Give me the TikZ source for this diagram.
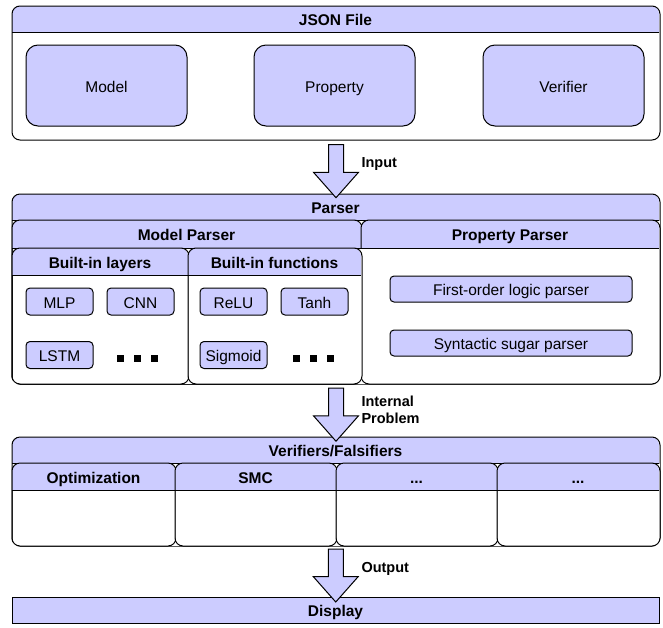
\documentclass[tikz,border=0pt]{standalone}
\usepackage{fontspec}
\setmainfont{Liberation Sans}
\usetikzlibrary{shapes.arrows,calc}
\definecolor{lav}{HTML}{CCCCFF}
\tikzset{
  lanebox/.style={fill=white, inner sep=0pt, anchor=north west},
  hdr/.style={font=\bfseries\fontsize{15.5}{18}\selectfont, text height=13pt, text depth=0pt},
  item/.style={draw, fill=lav, rounded corners=4pt, minimum width=67pt, minimum height=27pt, inner sep=0pt, font=\fontsize{15.5}{18}\selectfont, text height=13pt, text depth=0pt},
  bigitem/.style={item, rounded corners=12pt, minimum width=161pt, minimum height=81pt},
  wideitem/.style={item, minimum width=242pt, minimum height=26pt},
  fatarrow/.style={single arrow, draw, fill=lav, rotate=-90, minimum height=53pt, minimum width=44pt, single arrow head extend=15pt, single arrow tip angle=83, inner xsep=0pt, inner ysep=7pt},
  lbl/.style={font=\bfseries\fontsize{14.5}{17}\selectfont, anchor=west, align=left, inner sep=0pt}
}
% name, x1, y1, x2, y2, header height, title
\newcommand{\lane}[7]{%
  \node[lanebox, minimum width={(#4-#2)*1pt}, minimum height={(#5-#3)*1pt}] (#1) at (#2,#3) {};
  \begin{scope}
    \clip (#2,#3) rectangle (#4,#3+#6);
    \fill[lav, rounded corners=8pt] (#2,#3) rectangle (#4,#5);
  \end{scope}
  \draw[rounded corners=8pt] (#1.north west) rectangle (#1.south east);
  \draw (#2,#3+#6) -- (#4,#3+#6);
  \node[hdr] (#1-t) at ({(#2+#4)/2},{#3+#6/2}) {#7};
}
\begin{document}
\begin{tikzpicture}[x=1pt, y=-1pt, line width=1pt]
    \useasboundingbox (0,0) rectangle (663,627);
    \lane{json}{12}{6}{659}{139}{26}{JSON File}
    \node[bigitem] at (106.5,85.5) (model) {Model};
    \node[bigitem] at (334.5,85.5) (prop) {Property};
    \node[bigitem] at (563.5,85.5) (verif) {Verifier};

    \lane{parser}{12}{194}{659}{383}{26}{Parser}
    \lane{mparser}{12}{220}{361}{383}{28}{Model Parser}
    \lane{pparser}{361}{220}{659}{383}{28}{Property Parser}
    \lane{layers}{12}{248}{188}{383}{27}{Built-in layers}
    \lane{funcs}{188}{248}{361}{383}{27}{Built-in functions}
    \node[item] at (59.5,301.5) (mlp) {MLP};
    \node[item] at (140.5,301.5) (cnn) {CNN};
    \node[item] at (59.5,355) (lstm) {LSTM};
    \node[item] at (233.5,301.5) (relu) {ReLU};
    \node[item] at (314.5,301.5) (tanh) {Tanh};
    \node[item] at (233.5,355) (sigm) {Sigmoid};
    \foreach \cx in {137.5,313}
      \foreach \dx in {-17,0,17}
        \fill (\cx+\dx-3.5,354.5) rectangle ++(7,7);
    \node[wideitem] at (511,289) (fol) {First-order logic parser};
    \node[wideitem] at (511,343) (sugar) {Syntactic sugar parser};

    \lane{vf}{12}{437}{659}{545}{26}{Verifiers/Falsifiers}
    \lane{opt}{12}{463}{175}{545}{27}{Optimization}
    \lane{smc}{175}{463}{336}{545}{27}{SMC}
    \lane{etc1}{336}{463}{497}{545}{27}{...}
    \lane{etc2}{497}{463}{659}{545}{27}{...}

    \node[draw, fill=lav, minimum width=647pt, minimum height=26pt, inner sep=0pt, hdr] at (335.5,610) (disp) {Display};

    \node[fatarrow] at ($(json.south)!.5!(parser.north)$) (inarr) {};
    \node[fatarrow] at ($(parser.south)!.5!(vf.north)$) (probarr) {};
    \node[fatarrow] at ($(vf.south)!.5!(disp.north)$) (outarr) {};
    \node[lbl] at (361,164) (inlbl) {Input};
    \node[lbl] at (361,409.5) (problbl) {Internal\\Problem};
    \node[lbl] at (361,569) (outlbl) {Output};
\end{tikzpicture}
\end{document}
